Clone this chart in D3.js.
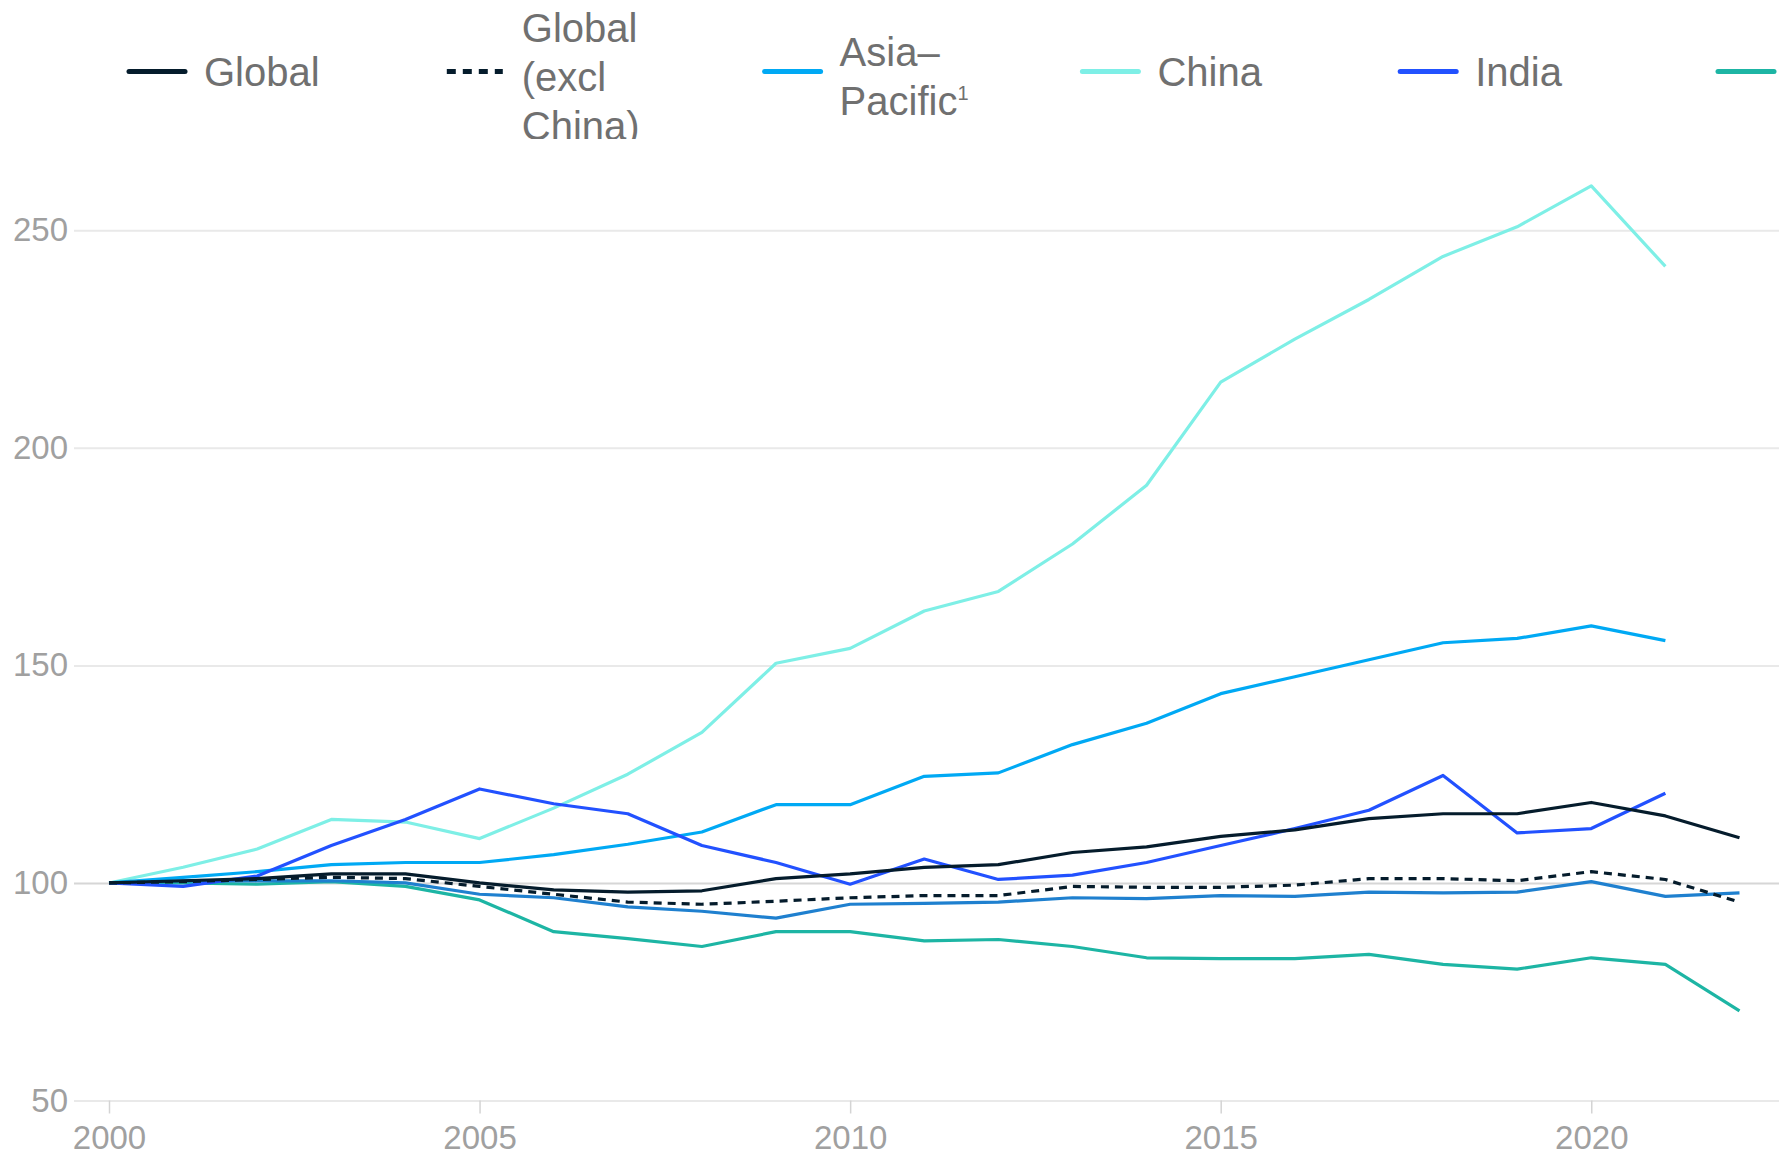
<!DOCTYPE html>
<html>
<head>
<meta charset="utf-8">
<script src="https://cdn.jsdelivr.net/npm/d3@7/dist/d3.min.js"></script>
<style>
  html, body { margin: 0; padding: 0; background: #fff; overflow: hidden; }
  svg { display: block; }
</style>
</head>
<body>
<svg width="1779" height="1160"></svg>
<script>
var svg = d3.select('svg');
var W = 1779;

// data (index, 2000 = 100)
var years = d3.range(2000, 2023);
var yTicks = [50, 100, 150, 200, 250];
var xTicks = [2000, 2005, 2010, 2015, 2020];

var global = [100, 100.5, 101, 102.1, 102.1, 100, 98.4, 97.9, 98.2, 101, 102.1, 103.6, 104.2, 107, 108.3, 110.7, 112.2, 114.8, 115.9, 115.9, 118.5, 115.4, 110.4];
var globalExChina = [100, 100.3, 100.8, 101.3, 101, 99.2, 97.4, 95.6, 95.1, 95.8, 96.6, 97.1, 97.1, 99.2, 99, 99, 99.5, 101, 101, 100.5, 102.6, 100.8, 95.6];
var asiaPacific = [100, 101.3, 102.6, 104.2, 104.7, 104.7, 106.5, 108.9, 111.7, 118, 118, 124.5, 125.3, 131.8, 136.7, 143.5, 147.4, 151.3, 155.2, 156.2, 159.1, 155.7];
var china = [100, 103.6, 107.8, 114.6, 114, 110.2, 117.2, 125, 134.6, 150.5, 153.9, 162.5, 167, 177.9, 191.4, 215.1, 225, 234.1, 244, 250.8, 260.2, 241.7];
var india = [100, 99.2, 101.6, 108.6, 114.6, 121.6, 118.2, 115.9, 108.6, 104.7, 99.7, 105.5, 100.8, 101.8, 104.7, 108.6, 112.5, 116.7, 124.7, 111.5, 112.5, 120.6];
var europe = [100, 100, 99.7, 100.3, 99.2, 96.1, 88.8, 87.2, 85.4, 88.8, 88.8, 86.7, 87, 85.4, 82.8, 82.6, 82.6, 83.6, 81.3, 80.2, 82.8, 81.3, 70.6];
var northAmerica = [100, 100.5, 100.5, 100.5, 100, 97.4, 96.6, 94.5, 93.5, 91.9, 95.1, 95.3, 95.6, 96.6, 96.4, 97.1, 96.9, 97.9, 97.7, 97.9, 100.3, 96.9, 97.7];

var series = [
  {name: ['Global'], values: global, color: '#051c2c', dash: null},
  {name: ['Global', '(excl', 'China)'], values: globalExChina, color: '#051c2c', dash: '8,6'},
  {name: ['Asia\u2013', 'Pacific'], sup: '1', values: asiaPacific, color: '#00a9f4', dash: null},
  {name: ['China'], values: china, color: '#7eefe6', dash: null},
  {name: ['India'], values: india, color: '#2251ff', dash: null},
  {name: ['Europe'], values: europe, color: '#1db5a4', dash: null},
  {name: ['North America'], values: northAmerica, color: '#1f80cf', dash: null}
];

var x = d3.scaleLinear().domain([2000, 2022]).range([109, 1739.5]);
var y = d3.scaleLinear().domain([50, 250]).range([1100.5, 230.3]);

// gridlines + y labels
var yAxis = svg.append('g')
    .attr('transform', 'translate(74,0)')
    .call(d3.axisLeft(y).tickValues(yTicks).tickSize(-(W - 74)).tickPadding(6));
yAxis.select('.domain').remove();
yAxis.selectAll('line')
    .attr('stroke', function (d) { return d === 100 ? '#d6d6d6' : '#e9e9e9'; })
    .attr('stroke-width', 2);
yAxis.selectAll('text')
    .attr('fill', '#a0a0a0')
    .style('font-family', '"Liberation Sans", Arial, sans-serif')
    .style('font-size', '33px');

// x axis
var xAxis = svg.append('g')
    .attr('transform', 'translate(0,' + y(50) + ')')
    .call(d3.axisBottom(x).tickValues(xTicks).tickFormat(d3.format('d')).tickSize(13).tickPadding(12));
xAxis.select('.domain').remove();
xAxis.selectAll('line').attr('stroke', '#d4d4d4').attr('stroke-width', 1.5);
xAxis.selectAll('text')
    .attr('fill', '#a0a0a0')
    .style('font-family', '"Liberation Sans", Arial, sans-serif')
    .style('font-size', '33px');

// lines
var line = d3.line()
    .x(function (d, i) { return x(years[i]); })
    .y(function (d) { return y(d); });

var drawOrder = [5, 6, 3, 2, 4, 1, 0];
svg.append('g').selectAll('path')
    .data(drawOrder.map(function (i) { return series[i]; }))
    .enter()
    .append('path')
    .attr('d', function (d) { return line(d.values); })
    .attr('fill', 'none')
    .attr('stroke', function (d) { return d.color; })
    .attr('stroke-width', 3.2)
    .attr('stroke-linejoin', 'round')
    .attr('stroke-dasharray', function (d) { return d.dash; });

// legend (runs off the right edge like the original)
svg.append('clipPath').attr('id', 'legclip')
    .append('rect').attr('x', 0).attr('y', 0).attr('width', W).attr('height', 139);

var legX = function (i) { return 127 + i * 317.8; };
var legend = svg.append('g').attr('clip-path', 'url(#legclip)');
var item = legend.selectAll('g')
    .data(series.filter(function (d, i) { return legX(i) < W; }))
    .enter()
    .append('g')
    .attr('transform', function (d, i) { return 'translate(' + legX(i) + ',71.5)'; });

item.append('line')
    .attr('x1', 2).attr('x2', 58)
    .attr('stroke', function (d) { return d.color; })
    .attr('stroke-width', 5)
    .attr('stroke-linecap', function (d) { return d.dash ? 'butt' : 'round'; })
    .attr('stroke-dasharray', function (d) { return d.dash ? '9,7' : null; });

var label = item.filter(function (d, i) { return legX(i) + 77 < W; })
    .append('text')
    .attr('x', 77)
    .style('font-family', '"Liberation Sans", Arial, sans-serif')
    .style('font-size', '40px')
    .attr('fill', '#707070');

label.selectAll('tspan.ln')
    .data(function (d) { return d.name.map(function (t, k) { return {t: t, k: k, n: d.name.length}; }); })
    .enter()
    .append('tspan')
    .attr('class', 'ln')
    .attr('x', 77)
    .attr('y', function (d) { return d.n > 1 ? 19 + (d.k - (d.n - 1) / 2) * 49 : 14.5; })
    .text(function (d) { return d.t; });

label.filter(function (d) { return d.sup; })
    .append('tspan')
    .attr('dy', -15)
    .style('font-size', '20px')
    .text(function (d) { return d.sup; });
</script>
</body>
</html>
